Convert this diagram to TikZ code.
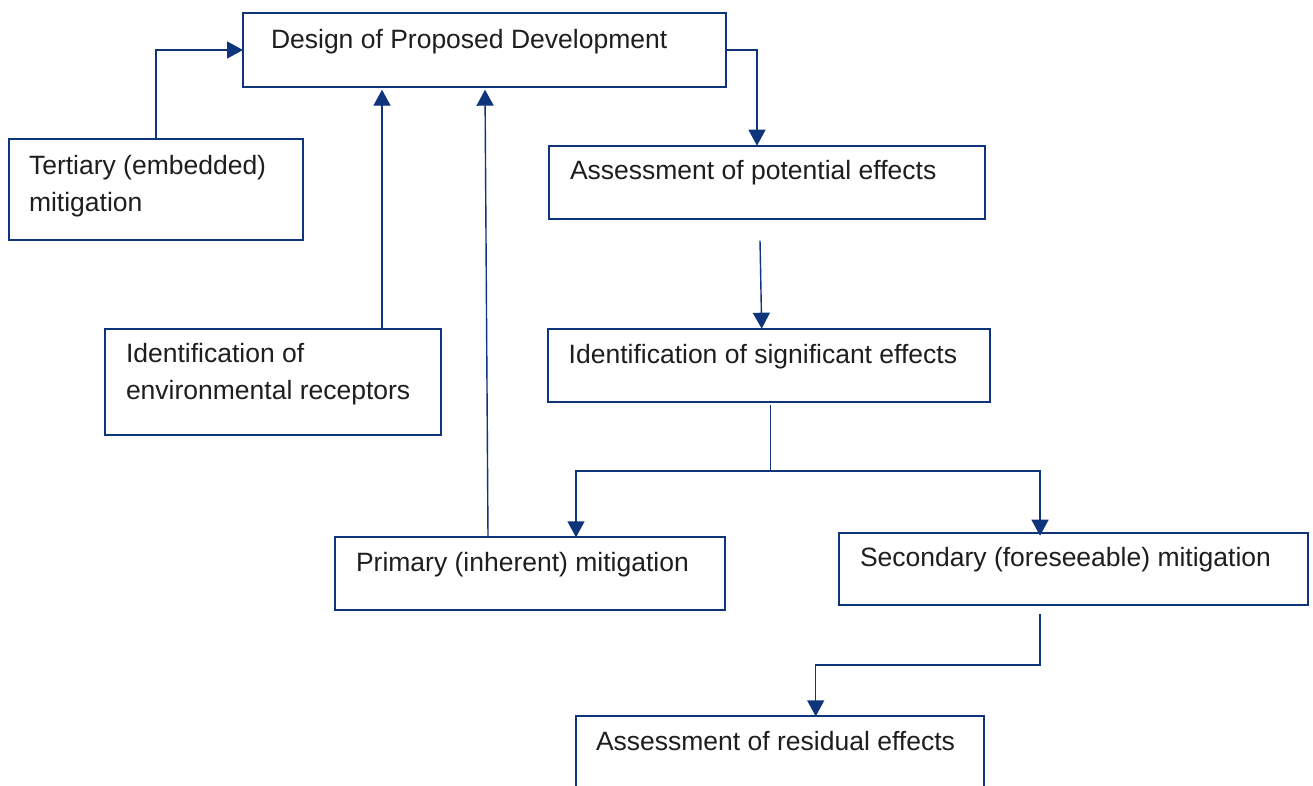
\documentclass[tikz,border=0pt]{standalone}
\usepackage{fontspec}
\setmainfont{Liberation Sans}
\usetikzlibrary{arrows.meta}
\definecolor{lineblue}{RGB}{14,52,124}
\definecolor{txtgray}{RGB}{30,30,30}
\begin{document}
\begin{tikzpicture}[x=1pt,y=-1pt,
  box/.style={draw=lineblue,line width=2pt,inner sep=0pt,outer sep=0pt,anchor=north west},
  conn/.style={draw=lineblue,line width=1.4pt},
  arr/.style={conn,-{Triangle[length=16pt,width=17pt]}},
  lbl/.style={anchor=base west,inner sep=0pt,outer sep=0pt,align=left,text=txtgray,
    font=\fontsize{26.5}{37}\selectfont}]
\useasboundingbox[fill=white] (0,0) rectangle (1313,785);
% boxes
\node[box,minimum width=483pt,minimum height=73.4pt] (design) at (243,13.3) {};
\node[box,minimum width=294pt,minimum height=100.7pt] (tert) at (9,139.3) {};
\node[box,minimum width=435.7pt,minimum height=73.3pt] (assess) at (549.3,145.7) {};
\node[box,minimum width=336pt,minimum height=106.3pt] (env) at (105,328.7) {};
\node[box,minimum width=442pt,minimum height=73.6pt] (sig) at (547.7,328.7) {};
\node[box,minimum width=390pt,minimum height=73pt] (prim) at (335,537.3) {};
\node[box,minimum width=468.7pt,minimum height=72.3pt] (sec) at (839,532.7) {};
\node[box,minimum width=408.6pt,minimum height=100pt] (res) at (575.7,716.3) {};
% texts (base anchor = baseline of the last line)
\node[lbl] (tdesign) at (271,48.3) {Design of Proposed Development};
\node[lbl] (ttert) at (29,211) {Tertiary (embedded)\\mitigation};
\node[lbl] (tassess) at (570,179) {Assessment of potential effects};
\node[lbl] (tenv) at (126,399.3) {Identification of\\environmental receptors};
\node[lbl] (tsig) at (568.7,363.3) {Identification of significant effects};
\node[lbl] (tprim) at (356,571.7) {Primary (inherent) mitigation};
\node[lbl] (tsec) at (860,566) {Secondary (foreseeable) mitigation};
\node[lbl] (tres) at (596,750.7) {Assessment of residual effects};
% connectors
\draw[arr] (tert.north) |- (design.west);
\draw[arr,shorten >=3pt] ([xshift=277pt]env.north west) -- ([xshift=277pt]env.north west |- design.south);
\draw[arr,shorten >=3pt] ([xshift=153pt]prim.north west) -- ([xshift=242pt]design.south west);
\draw[arr] (design.east) -| ([xshift=207.7pt]assess.north west);
\coordinate (free1) at (760,240.7);
\draw[arr] (free1) -- ([xshift=214pt]sig.north west);
\coordinate (sigjoin) at (770.7,471);
\draw[conn] ([xshift=223pt,yshift=-2.7pt]sig.south west) -- (sigjoin);
\draw[arr] (sigjoin) -| ([xshift=241pt]prim.north west);
\draw[arr] (sigjoin) -| ([xshift=201pt,yshift=-3pt]sec.north west);
\coordinate (secjoin) at (815.7,665);
\draw[arr] ([xshift=201pt,yshift=-9pt]sec.south west) |- (secjoin) -- ([xshift=240pt]res.north west);
\end{tikzpicture}
\end{document}
